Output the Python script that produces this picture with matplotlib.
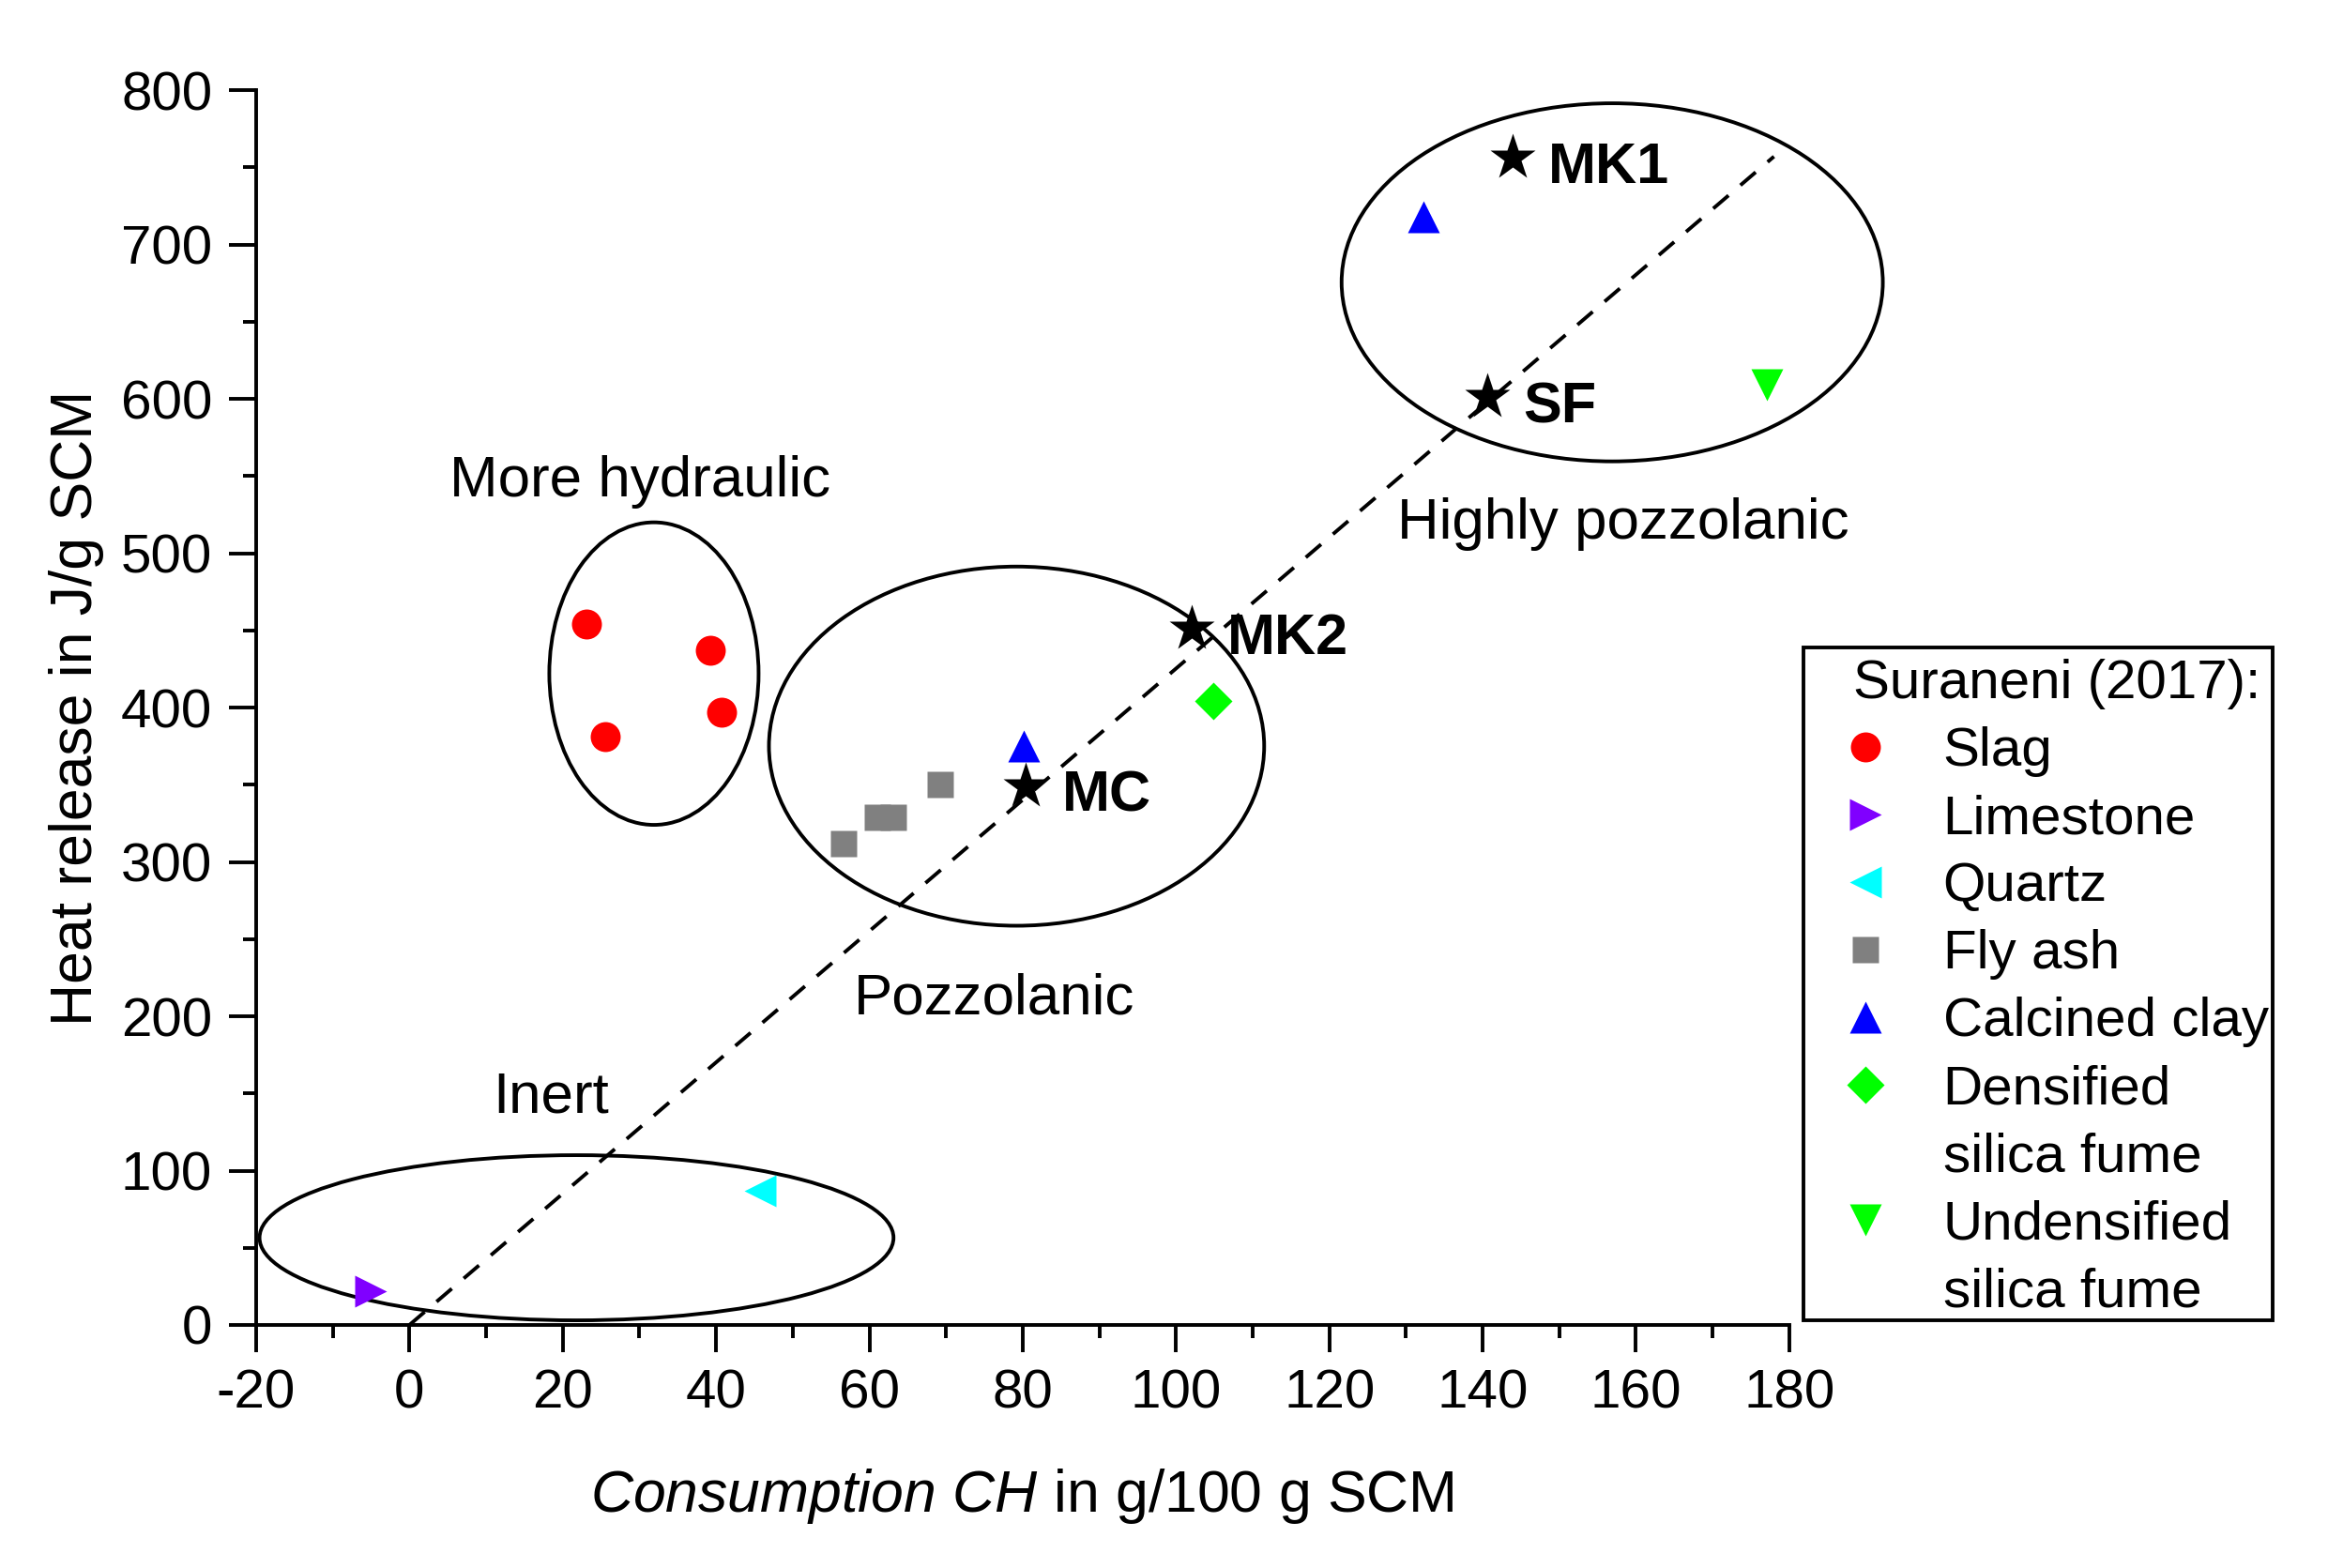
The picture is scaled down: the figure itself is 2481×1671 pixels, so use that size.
import matplotlib
matplotlib.use("Agg")
import matplotlib.pyplot as plt
from matplotlib.patches import Ellipse, Rectangle
from matplotlib.lines import Line2D

plt.rcParams['font.family'] = ['Liberation Sans', 'DejaVu Sans']
plt.rcParams['mathtext.fontset'] = 'custom'
plt.rcParams['mathtext.it'] = 'Liberation Sans:italic'
plt.rcParams['mathtext.rm'] = 'Liberation Sans'
plt.rcParams['axes.unicode_minus'] = False

### Data ###
slag_x = [23.1, 39.2, 25.6, 40.7]
slag_y = [454, 437, 381, 397]
lime_x = [-5.0]
lime_y = [22]
quartz_x = [45.8]
quartz_y = [87]
flyash_x = [56.6, 61.0, 63.1, 69.3]
flyash_y = [312, 329, 329, 350]
clay_x = [80.1, 132.3]
clay_y = [375, 718]
dsf_x = [104.9]
dsf_y = [404]
usf_x = [177.1]
usf_y = [609]

# own samples (stars)
own_names = ["MK1", "SF", "MK2", "MC"]
own_x = [143.9, 140.6, 102.0, 80.4]
own_y = [756, 601, 451, 349]

# dashed trend line
trend_x = [0, 178]
trend_y = [0, 757]

# regions: ellipses and their labels
reg_names = ["Inert", "More hydraulic", "Pozzolanic", "Highly pozzolanic"]
reg_cx = [21.8, 31.9, 79.2, 156.9]
reg_cy = [56.5, 422, 375, 675.5]
reg_w = [82.7, 27.3, 64.6, 70.6]
reg_h = [107, 196, 232.7, 232]
reg_lx = [18.5, 30.1, 76.3, 158.3]
reg_ly = [147, 546, 211, 519]

### Plot ###
fig = plt.figure(figsize=(12.405, 8.355), dpi=200)
ax = fig.add_axes([0.1100, 0.1550, 0.6586, 0.7875])

for cx, cy, w, h in zip(reg_cx, reg_cy, reg_w, reg_h):
    ax.add_patch(Ellipse((cx, cy), w, h, fill=False, edgecolor='black',
                         linewidth=1.4, clip_on=False, zorder=2))
for name, lx, ly in zip(reg_names, reg_lx, reg_ly):
    ax.text(lx, ly, name, fontsize=22.3, ha='center', va='center')

ax.plot(trend_x, trend_y, color='black', linestyle=(0, (5.5, 4.3)), linewidth=1.4, zorder=3)

h_slag, = ax.plot(slag_x, slag_y, 'o', color='#FF0000', ms=11.5, mec='none', label='Slag', zorder=4)
h_lime, = ax.plot(lime_x, lime_y, '>', color='#8000FF', ms=12.5, mec='none', label='Limestone', zorder=4)
h_qz, = ax.plot(quartz_x, quartz_y, '<', color='#00FFFF', ms=12.5, mec='none', label='Quartz', zorder=4)
h_fa, = ax.plot(flyash_x, flyash_y, 's', color='#808080', ms=10, mec='none', label='Fly ash', zorder=4)
h_cc, = ax.plot(clay_x, clay_y, '^', color='#0000FF', ms=12.5, mec='none', label='Calcined clay', zorder=4)
h_dsf, = ax.plot(dsf_x, dsf_y, 'D', color='#00FF00', ms=10, mec='none', label='Densified', zorder=4)
h_usf, = ax.plot(usf_x, usf_y, 'v', color='#00FF00', ms=12.5, mec='none', label='Undensified', zorder=4)

ax.plot(own_x, own_y, '*', color='black', ms=18.5, mec='none', zorder=5)
for name, x, y in zip(own_names, own_x, own_y):
    ax.text(x + 4.7, y - 7, name, fontsize=22, fontweight='bold', ha='left', va='center')

ax.set_xlim(-20, 180)
ax.set_ylim(0, 800)
ax.set_xticks(range(-20, 181, 20))
ax.set_xticks(range(-10, 180, 20), minor=True)
ax.set_yticks(range(0, 801, 100))
ax.set_yticks(range(50, 800, 100), minor=True)
ax.spines['top'].set_visible(False)
ax.spines['right'].set_visible(False)
for s in ['left', 'bottom']:
    ax.spines[s].set_linewidth(1.4)
ax.tick_params(which='major', direction='out', length=10.3, width=1.4, labelsize=21, pad=6.5)
ax.tick_params(which='minor', direction='out', length=5, width=1.4)

ax.set_xlabel(r"$\mathit{Consumption\ CH}$ in g/100 g SCM", fontsize=22.5, labelpad=18)
ax.set_ylabel("Heat release in J/g SCM", fontsize=22.5, labelpad=6.5)

blank = Line2D([], [], linestyle='none', marker='')
handles = [h_slag, h_lime, h_qz, h_fa, h_cc, h_dsf, blank, h_usf, blank]
labels = ['Slag', 'Limestone', 'Quartz', 'Fly ash', 'Calcined clay',
          'Densified', 'silica fume', 'Undensified', 'silica fume']
leg = ax.legend(handles, labels, title='Suraneni (2017):', loc='upper left',
                bbox_to_anchor=(1975 / 2481, 1 - 702 / 1671), bbox_transform=fig.transFigure,
                frameon=False, fontsize=21, title_fontsize=21, borderpad=0, borderaxespad=0,
                handlelength=0.44, handletextpad=1.2, labelspacing=0.31, numpoints=1,
                alignment='left')
fig.patches.append(Rectangle((1922 / 2481, 1 - 1407 / 1671), 500 / 2481, 717 / 1671,
                             transform=fig.transFigure, fill=False, edgecolor='black',
                             linewidth=1.4))

plt.savefig("out.png", dpi=200)
